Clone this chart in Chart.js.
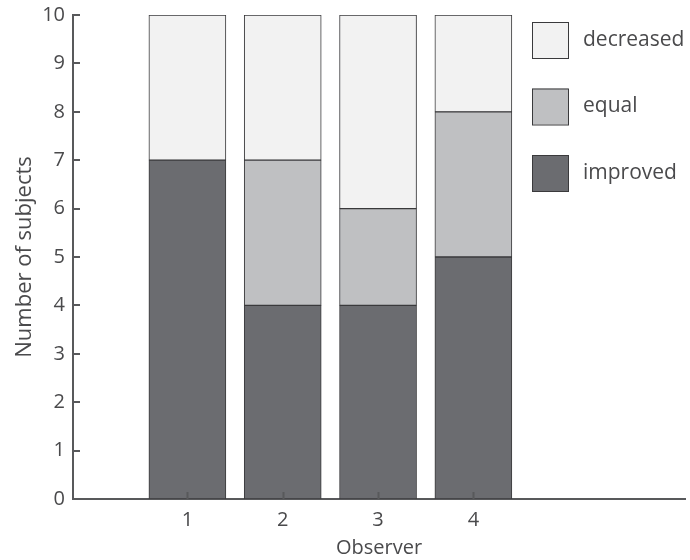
<!DOCTYPE html>
<html>
<head>
<meta charset="utf-8">
<script src="https://cdn.jsdelivr.net/npm/chart.js@4.4.0/dist/chart.umd.min.js"></script>
<style>
  body { margin: 0; background: #fff; }
  #wrap { width: 690px; height: 560px; }
</style>
</head>
<body>
<div id="wrap"><canvas id="myChart" width="690" height="560"></canvas></div>
<script>
const observers = [1, 2, 3, 4]
const improved = [7, 4, 4, 5]
const equal = [0, 3, 2, 3]
const decreased = [3, 3, 4, 2]
const yTicks = [0, 1, 2, 3, 4, 5, 6, 7, 8, 9, 10]

const textColor = '#4a4a4c'
const axisColor = '#58595b'
const fontFam = "'Open Sans', sans-serif"

function pontos(valores) {
    return observers.map((o, i) => ({ x: o, y: valores[i] }))
}

function serie(label, valores, cor) {
    return {
        label: label,
        data: pontos(valores),
        backgroundColor: cor,
        borderColor: '#3a3a3c',
        borderWidth: 1,
        borderSkipped: false,
        barThickness: 77,
    }
}

// ticks para dentro + legenda dentro da area
const extras = {
    id: 'extras',
    afterDraw(chart) {
        const ctx = chart.ctx
        const xs = chart.scales.x
        const ys = chart.scales.y
        const area = chart.chartArea
        ctx.save()
        ctx.strokeStyle = axisColor
        ctx.lineWidth = 2
        yTicks.forEach(v => {
            const py = Math.round(ys.getPixelForValue(v))
            ctx.beginPath()
            ctx.moveTo(area.left, py)
            ctx.lineTo(area.left + 7, py)
            ctx.stroke()
        })
        observers.forEach(v => {
            const px = Math.round(xs.getPixelForValue(v)) + 0.5
            ctx.beginPath()
            ctx.moveTo(px, area.bottom)
            ctx.lineTo(px, area.bottom - 7)
            ctx.stroke()
        })
        // legenda
        const itens = [chart.data.datasets[2], chart.data.datasets[1], chart.data.datasets[0]]
        itens.forEach((ds, i) => {
            const top = 22 + i * 66.5
            ctx.fillStyle = ds.backgroundColor
            ctx.fillRect(532, top, 36, 36)
            ctx.strokeStyle = '#3a3a3c'
            ctx.lineWidth = 1
            ctx.strokeRect(532.5, top + 0.5, 36, 36)
            ctx.fillStyle = textColor
            ctx.font = '21px ' + fontFam
            ctx.textBaseline = 'middle'
            ctx.textAlign = 'left'
            ctx.fillText(ds.label, 583, top + 18)
        })
        ctx.restore()
    }
}

const config = {
    type: 'bar',
    data: {
        datasets: [
            serie('improved', improved, '#6b6c70'),
            serie('equal', equal, '#bfc0c2'),
            serie('decreased', decreased, '#f2f2f2'),
        ],
    },
    options: {
        responsive: false,
        animation: false,
        layout: { padding: { top: 15, right: 5, left: 0, bottom: 0 } },
        plugins: {
            legend: { display: false },
            tooltip: { enabled: false },
        },
        scales: {
            x: {
                type: 'linear',
                stacked: true,
                offset: false,
                min: -0.2,
                max: 6.22,
                afterBuildTicks: (s) => { s.ticks = observers.map(v => ({ value: v })) },
                afterFit: (s) => { s.height = 61 },
                grid: { display: false, offset: false },
                border: { display: true, color: axisColor, width: 2 },
                ticks: {
                    color: textColor,
                    font: { family: fontFam, size: 20 },
                    padding: 1,
                    maxRotation: 0,
                    autoSkip: false,
                },
                title: {
                    display: true,
                    text: 'Observer',
                    color: textColor,
                    font: { family: fontFam, size: 20 },
                    padding: { top: 0, bottom: 0 },
                },
            },
            y: {
                stacked: true,
                min: 0,
                max: 10,
                afterBuildTicks: (s) => { s.ticks = yTicks.map(v => ({ value: v })) },
                afterFit: (s) => { s.width = 73 },
                grid: { display: false },
                border: { display: true, color: axisColor, width: 2 },
                ticks: {
                    color: textColor,
                    font: { family: fontFam, size: 20 },
                    padding: 0,
                },
                title: {
                    display: true,
                    text: 'Number of subjects',
                    color: textColor,
                    font: { family: fontFam, size: 22 },
                    padding: { top: 12, bottom: 2 },
                },
            },
        },
    },
    plugins: [extras],
}

const myChart = new Chart(document.getElementById('myChart').getContext('2d'), config)
</script>
</body>
</html>
